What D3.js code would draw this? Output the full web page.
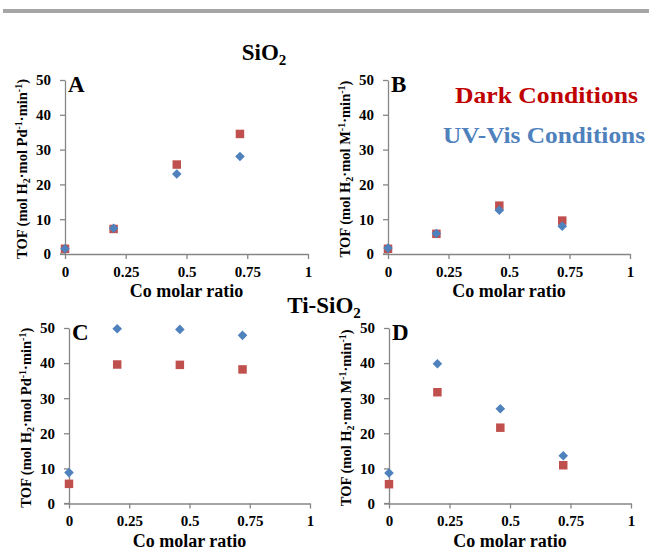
<!DOCTYPE html>
<html>
<head>
<meta charset="utf-8">
<script src="https://cdn.jsdelivr.net/npm/d3@7"></script>
<style>
  body { margin: 0; background: #fff; }
  svg { display: block; }
  text { font-family: "Liberation Serif", "Times New Roman", serif; font-weight: bold; }
</style>
</head>
<body>
<script>
var w = 649;
var h = 551;

// data
var coRatio = [0, 0.2, 0.46, 0.72];
var darkA = [1.5, 7.2, 25.7, 34.5];
var uvA   = [1.5, 7.4, 23.0, 28.0];
var darkB = [1.5, 5.8, 13.9, 9.6];
var uvB   = [1.7, 5.9, 12.6, 8.0];
var darkC = [5.6, 39.6, 39.5, 38.2];
var uvC   = [8.8, 49.8, 49.6, 47.9];
var darkD = [5.5, 31.7, 21.6, 10.9];
var uvD   = [8.7, 39.8, 27.0, 13.6];
var xTicks = [0, 0.25, 0.5, 0.75, 1];
var yTicks = [0, 10, 20, 30, 40, 50];

var red = "#c0504d", blue = "#4f81bd", axisGray = "#868686";
var serif = "'Liberation Serif', 'Times New Roman', serif";

var svg = d3.select("body").append("svg")
    .attr("width", w)
    .attr("height", h);

// grey rule at the top
svg.append("rect")
    .attr("x", 3).attr("y", 9)
    .attr("width", w - 3).attr("height", 4)
    .attr("fill", "#a6a6a6");

var panels = [
    {id: "A", x0: 65,  x1: 308, y0: 254, y1: 80,  dark: darkA, uv: uvA, metal: "Pd"},
    {id: "B", x0: 388, x1: 630, y0: 254, y1: 80,  dark: darkB, uv: uvB, metal: "M"},
    {id: "C", x0: 69,  x1: 310, y0: 503.5, y1: 328, dark: darkC, uv: uvC, metal: "Pd"},
    {id: "D", x0: 389, x1: 631, y0: 503.5, y1: 328, dark: darkD, uv: uvD, metal: "M"}
];

panels.forEach(function(p) {
    var x = d3.scaleLinear().domain([0, 1]).range([p.x0, p.x1]);
    var y = d3.scaleLinear().domain([0, 50]).range([p.y0, p.y1]);
    var g = svg.append("g");

    var xa = g.append("g")
        .attr("transform", "translate(0," + p.y0 + ")")
        .call(d3.axisBottom(x).tickValues(xTicks).tickFormat(function(d) { return String(d); })
            .tickSizeInner(5).tickSizeOuter(0).tickPadding(7));
    var ya = g.append("g")
        .attr("transform", "translate(" + p.x0 + ",0)")
        .call(d3.axisLeft(y).tickValues(yTicks).tickSizeInner(5).tickSizeOuter(0).tickPadding(9));

    [xa, ya].forEach(function(a) {
        a.attr("font-family", serif);
        a.select(".domain").attr("stroke", axisGray).attr("stroke-width", 1.3);
        a.selectAll(".tick line").attr("stroke", axisGray).attr("stroke-width", 1.3);
        a.selectAll(".tick text")
            .attr("fill", "#000")
            .style("font-size", "15px")
            .style("font-family", serif)
            .style("font-weight", "bold");
    });
    // x-axis line runs a little past the y axis, as in the reference
    g.append("line")
        .attr("x1", p.x0 - 5).attr("x2", p.x0)
        .attr("y1", p.y0).attr("y2", p.y0)
        .attr("stroke", axisGray).attr("stroke-width", 1.3);

    // markers
    g.selectAll(".dark").data(p.dark).enter().append("path")
        .attr("d", d3.symbol().type(d3.symbolSquare).size(72))
        .attr("transform", function(d, i) { return "translate(" + x(coRatio[i]) + "," + y(d) + ")"; })
        .attr("fill", red);
    g.selectAll(".uv").data(p.uv).enter().append("path")
        .attr("d", d3.symbol().type(d3.symbolSquare).size(46))
        .attr("transform", function(d, i) { return "translate(" + x(coRatio[i]) + "," + y(d) + ") rotate(45)"; })
        .attr("fill", blue);

    // panel letter
    g.append("text")
        .attr("x", p.x0 + 3).attr("y", p.y1 + 12)
        .style("font-size", "23px")
        .text(p.id);

    // x title
    g.append("text")
        .attr("x", (p.x0 + p.x1) / 2).attr("y", p.y0 + 43)
        .attr("text-anchor", "middle")
        .style("font-size", "18px")
        .text("Co molar ratio");

    // y title
    var yt = g.append("text")
        .attr("transform", "translate(" + (p.x0 - 38) + "," + ((p.y0 + p.y1) / 2 + 2) + ") rotate(-90)")
        .attr("text-anchor", "middle")
        .style("font-size", "14.5px");
    yt.append("tspan").text("TOF (mol H");
    yt.append("tspan").attr("dy", 3).style("font-size", "10px").text("2");
    yt.append("tspan").attr("dy", -3).text("·mol " + p.metal);
    yt.append("tspan").attr("dy", -5).style("font-size", "10px").text("-1");
    yt.append("tspan").attr("dy", 5).text("·min");
    yt.append("tspan").attr("dy", -5).style("font-size", "10px").text("-1");
    yt.append("tspan").attr("dy", 5).text(")");
});

// section titles
function title(cx, cy, main) {
    var t = svg.append("text")
        .attr("x", cx).attr("y", cy)
        .attr("text-anchor", "middle")
        .style("font-size", "23px");
    t.append("tspan").text(main);
    t.append("tspan").attr("dy", 5).style("font-size", "15px").text("2");
}
title(264, 60, "SiO");
title(324, 313, "Ti-SiO");

// legend
svg.append("text").attr("x", 455).attr("y", 103)
    .attr("fill", "#c00000").style("font-size", "24px")
    .attr("textLength", 183).attr("lengthAdjust", "spacingAndGlyphs")
    .text("Dark Conditions");
svg.append("text").attr("x", 443).attr("y", 143)
    .attr("fill", blue).style("font-size", "24px")
    .attr("textLength", 202).attr("lengthAdjust", "spacingAndGlyphs")
    .text("UV-Vis Conditions");
</script>
</body>
</html>
